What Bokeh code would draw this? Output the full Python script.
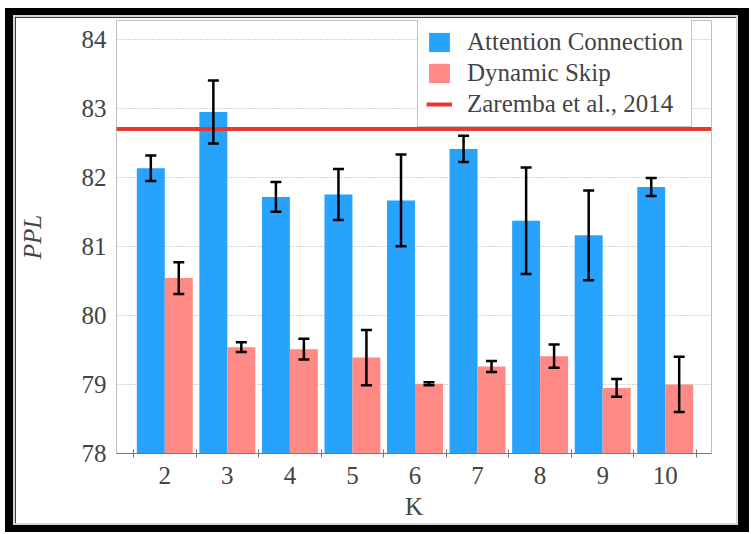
from bokeh.plotting import figure
from bokeh.models import (ColumnDataSource, FixedTicker, Whisker, TeeHead, Legend,
                          LegendItem, Range1d)
from bokeh.layouts import column
from bokeh.embed import file_html
from bokeh.resources import INLINE

# Perplexity per K for the two methods, with error bar half-widths
k_values = [2, 3, 4, 5, 6, 7, 8, 9, 10]
attention_ppl = [82.13, 82.945, 81.715, 81.75, 81.665, 82.41, 81.37, 81.16, 81.86]
attention_err = [0.185, 0.455, 0.215, 0.37, 0.665, 0.19, 0.77, 0.65, 0.13]
skip_ppl = [80.54, 79.54, 79.51, 79.39, 79.01, 79.26, 79.41, 78.95, 79.00]
skip_err = [0.23, 0.07, 0.15, 0.40, 0.02, 0.08, 0.17, 0.13, 0.40]
zaremba_ppl = 82.7
y_ticks = [78, 79, 80, 81, 82, 83, 84]

FONT = "Liberation Serif"
BLUE = "#27a3fe"
PINK = "#ff8985"
RED = "#e8392f"

X_LO, X_HI = 1.228, 10.74
Y_LO, Y_HI = 78.0, 84.27
BAR_W = 0.447
OFFSET = BAR_W / 2

attn_src = ColumnDataSource(dict(
    x=[k - OFFSET for k in k_values], top=attention_ppl,
    upper=[v + e for v, e in zip(attention_ppl, attention_err)],
    lower=[v - e for v, e in zip(attention_ppl, attention_err)],
))
skip_src = ColumnDataSource(dict(
    x=[k + OFFSET for k in k_values], top=skip_ppl,
    upper=[v + e for v, e in zip(skip_ppl, skip_err)],
    lower=[v - e for v, e in zip(skip_ppl, skip_err)],
))

p = figure(width=721, height=506, output_backend="svg", toolbar_location=None,
           x_range=Range1d(X_LO, X_HI), y_range=Range1d(Y_LO, Y_HI),
           min_border_left=101, min_border_right=25, min_border_top=3,
           min_border_bottom=70)
p.outline_line_color = None
p.background_fill_color = "white"
p.border_fill_color = "white"

r_attn = p.vbar(x="x", top="top", bottom=Y_LO, width=BAR_W, source=attn_src,
                fill_color=BLUE, line_color=None)
r_skip = p.vbar(x="x", top="top", bottom=Y_LO, width=BAR_W, source=skip_src,
                fill_color=PINK, line_color=None)
r_base = p.line(x=[X_LO, X_HI], y=[zaremba_ppl, zaremba_ppl], line_color=RED,
                line_width=4)

# error bars drawn above the bars
for src in (attn_src, skip_src):
    w = Whisker(base="x", upper="upper", lower="lower", source=src,
                line_color="black", line_width=2.5, level="overlay",
                upper_head=TeeHead(size=11, line_width=2.5, line_color="black"),
                lower_head=TeeHead(size=11, line_width=2.5, line_color="black"))
    p.add_layout(w)

# x axis: labels at group centres, small crossing ticks between groups
xa = p.xaxis[0]
xa.ticker = FixedTicker(ticks=k_values, minor_ticks=[k + 0.5 for k in [1] + k_values])
xa.major_tick_line_color = None
xa.major_tick_out = 0
xa.major_tick_in = 0
xa.minor_tick_line_color = "#777777"
xa.minor_tick_in = 4
xa.minor_tick_out = 4
xa.axis_line_color = "#777777"
xa.axis_label = "K"
xa.axis_label_text_font = FONT
xa.axis_label_text_font_size = "25px"
xa.axis_label_text_font_style = "normal"
xa.axis_label_standoff = 6
xa.major_label_text_font = FONT
xa.major_label_text_font_size = "25px"
xa.major_label_standoff = 9

ya = p.yaxis[0]
ya.ticker = FixedTicker(ticks=y_ticks)
ya.axis_line_color = None
ya.major_tick_line_color = None
ya.minor_tick_line_color = None
ya.major_tick_out = 0
ya.axis_label = "PPL"
ya.axis_label_text_font = FONT
ya.axis_label_text_font_size = "25px"
ya.axis_label_text_font_style = "italic"
ya.axis_label_standoff = 33
ya.major_label_text_font = FONT
ya.major_label_text_font_size = "25px"
ya.major_label_standoff = 10

p.xgrid.grid_line_color = None
p.ygrid.grid_line_color = "#a8a8a8"
p.ygrid.grid_line_dash = "1 2"
p.ygrid.grid_line_width = 1

legend = Legend(items=[
    LegendItem(label="Attention Connection", renderers=[r_attn]),
    LegendItem(label="Dynamic Skip", renderers=[r_skip]),
    LegendItem(label="Zaremba et al., 2014", renderers=[r_base]),
], location=(301, 326))
legend.margin = 0
legend.padding = 8
legend.spacing = 3
legend.glyph_width = 26
legend.glyph_height = 24
legend.label_height = 24
legend.label_standoff = 15
legend.label_text_font = FONT
legend.label_text_font_size = "25px"
legend.border_line_color = "#8a8a8a"
legend.border_line_width = 1
legend.background_fill_alpha = 1.0
p.add_layout(legend)

inner = column(p, styles={"border": "2px solid #d6d6d6"})
framed = column(inner, styles={"background-color": "black",
                               "padding": "7px 11px 7px 8px"})
page = column(framed, styles={"background-color": "white",
                              "padding": "8px 0px 0px 5px"})

open("out.html", "w").write(file_html(page, INLINE))
